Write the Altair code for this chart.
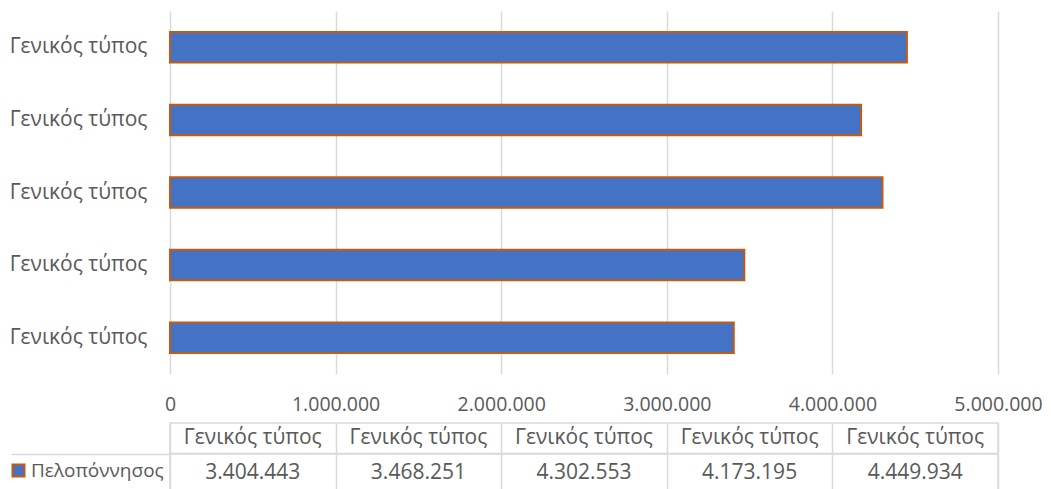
import altair as alt
import pandas as pd

# ---- data ----
categories = ["Γενικός τύπος", "Γενικός τύπος", "Γενικός τύπος", "Γενικός τύπος", "Γενικός τύπος"]
values = [3404443, 3468251, 4302553, 4173195, 4449934]
series_name = "Πελοπόννησος"
x_ticks = [0, 1000000, 2000000, 3000000, 4000000, 5000000]

df = pd.DataFrame({
    "idx": list(range(len(categories))),
    "category": categories,
    "value": values,
    "series": [series_name] * len(categories),
})

label_expr = "[" + ",".join("'" + c + "'" for c in categories) + "][datum.value]"

FONT = "Open Sans"
TXT = "#595959"
GRID = "#d9d9d9"
FILL = "#4472C4"
STROKE = "#C55A11"
FS = 21

bars = alt.Chart(df).mark_bar(stroke=STROKE, strokeWidth=2).encode(
    x=alt.X("value:Q",
            scale=alt.Scale(domain=[0, 5000000], nice=False, zero=True),
            axis=alt.Axis(values=x_ticks, format=",d", title=None, domain=False,
                          ticks=False, tickSize=0, labelPadding=21, grid=True,
                          labelFlush=False, labelOverlap=False,
                          gridColor=GRID, gridWidth=1.5, labelFontSize=19.5,
                          labelColor=TXT, labelFont=FONT)),
    y=alt.Y("idx:O", sort="descending",
            scale=alt.Scale(paddingInner=0.58, paddingOuter=0.29),
            axis=alt.Axis(title=None, labelExpr=label_expr, domain=False,
                          ticks=False, tickSize=0, labelPadding=23,
                          labelFontSize=FS, labelColor=TXT, labelFont=FONT)),
    color=alt.Color("series:N",
                    scale=alt.Scale(domain=[series_name], range=[FILL]),
                    legend=alt.Legend(title=None, orient="none", legendX=-161,
                                      legendY=450, symbolType="square",
                                      symbolSize=144, symbolStrokeColor=STROKE,
                                      symbolStrokeWidth=2, labelFontSize=19,
                                      labelColor=TXT, labelFont=FONT,
                                      labelOffset=3, padding=0)),
).properties(width=828, height=363)

col_x = alt.X("idx:O",
              scale=alt.Scale(paddingInner=0, paddingOuter=0),
              axis=alt.Axis(title=None, labels=False, ticks=False, domain=False,
                            grid=True, tickBand="extent", gridColor=GRID,
                            gridWidth=1.5))

header = alt.Chart(df).mark_text(font=FONT, fontSize=FS, color=TXT).encode(
    x=col_x,
    text="category:N",
).properties(width=828, height=30.5,
             view=alt.ViewBackground(stroke=GRID, strokeWidth=1.5))

datarow = alt.Chart(df).mark_text(font=FONT, fontSize=FS, color=TXT).encode(
    x=col_x,
    y=alt.Y("series:N",
            axis=alt.Axis(title=None, labels=False, domain=False, ticks=True,
                          tickBand="extent", tickSize=159, tickColor=GRID,
                          tickWidth=1.5)),
    text=alt.Text("value:Q", format=",d"),
).properties(width=828, height=38,
             view=alt.ViewBackground(stroke=GRID, strokeWidth=1.5))

table = alt.vconcat(header, datarow, spacing=0, bounds="flush")

chart = alt.vconcat(bars, table, spacing=49, bounds="flush").properties(
    padding={"left": 0, "top": 2, "right": 0, "bottom": 0}
).configure(
    locale={"number": {"decimal": ",", "thousands": ".", "grouping": [3],
                       "currency": ["", " €"]}}
).configure_view(stroke="transparent")

chart.save("out.html", embed_options={"renderer": "svg", "actions": False})
